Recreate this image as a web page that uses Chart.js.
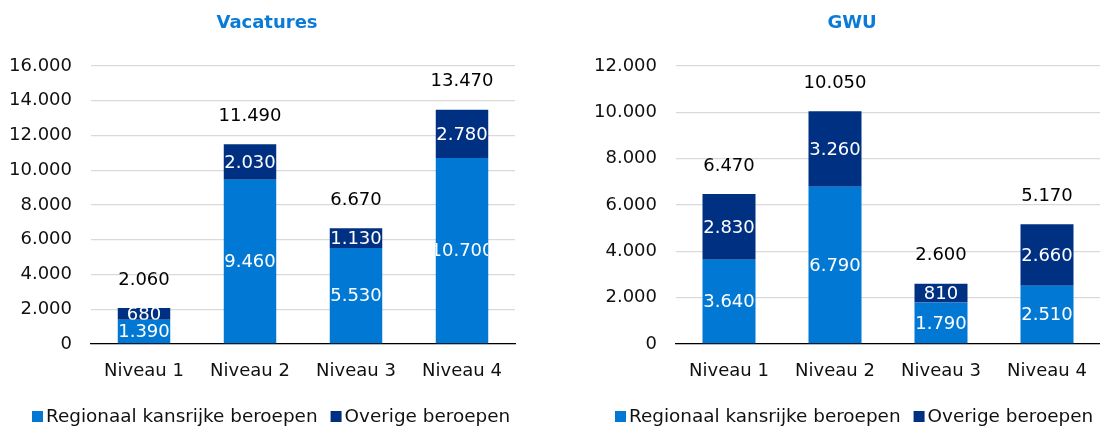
<!DOCTYPE html>
<html>
<head>
<meta charset="utf-8">
<script src="https://cdn.jsdelivr.net/npm/chart.js@4.4.1/dist/chart.umd.min.js"></script>
<style>
  html, body { margin: 0; padding: 0; background: #fff; }
  body { width: 1100px; height: 426px; position: relative; overflow: hidden; }
  .wrap { position: absolute; top: 0; height: 426px; }
</style>
</head>
<body>
<div class="wrap" style="left:0;width:530px"><canvas id="c1"></canvas></div>
<div class="wrap" style="left:586px;width:514px"><canvas id="c2"></canvas></div>
<script>
const categories = ['Niveau 1', 'Niveau 2', 'Niveau 3', 'Niveau 4'];
const seriesNames = ['Regionaal kansrijke beroepen', 'Overige beroepen'];

const vacRegionaal = [1390, 9460, 5530, 10700];
const vacOverige = [680, 2030, 1130, 2780];
const vacTotaal = [2060, 11490, 6670, 13470];

const gwuRegionaal = [3640, 6790, 1790, 2510];
const gwuOverige = [2830, 3260, 810, 2660];
const gwuTotaal = [6470, 10050, 2600, 5170];

const vacTicksMax = 16000;
const gwuTicksMax = 12000;
const tickStep = 2000;

const FONT = "'DejaVu Sans', Verdana, sans-serif";
const FS = 18;
const LEGEND_FS = 18.4;
const LIGHT = '#0078D4';
const DARK = '#003082';
const TEXT = '#111111';

function fmt(n) {
  return String(n).replace(/\B(?=(\d{3})+(?!\d))/g, '.');
}

const barLabels = {
  id: 'barLabels',
  afterDatasetsDraw(chart, args, opts) {
    const ctx = chart.ctx;
    ctx.save();
    ctx.font = FS + 'px ' + FONT;
    ctx.textAlign = 'center';
    ctx.textBaseline = 'middle';
    chart.data.datasets.forEach((ds, i) => {
      const meta = chart.getDatasetMeta(i);
      meta.data.forEach((bar, j) => {
        const p = bar.getProps(['x', 'y', 'base', 'width'], true);
        const top = Math.min(p.y, p.base), bot = Math.max(p.y, p.base);
        ctx.save();
        ctx.beginPath();
        ctx.rect(p.x - p.width / 2, top, p.width, bot - top);
        ctx.clip();
        ctx.fillStyle = '#ffffff';
        ctx.fillText(fmt(ds.data[j]), p.x, (top + bot) / 2 + 1);
        ctx.restore();
      });
    });
    const last = chart.getDatasetMeta(chart.data.datasets.length - 1);
    ctx.fillStyle = '#000000';
    last.data.forEach((bar, j) => {
      const p = bar.getProps(['x', 'y'], true);
      ctx.fillText(fmt(opts.totals[j]), p.x, p.y - 28);
    });
    ctx.restore();
  }
};

// Title and legend drawn at the reference's positions
const headerLegend = {
  id: 'headerLegend',
  afterDraw(chart, args, opts) {
    const ctx = chart.ctx;
    ctx.save();
    ctx.font = 'bold 18px ' + FONT;
    ctx.fillStyle = '#0A7BD6';
    ctx.textAlign = 'center';
    ctx.textBaseline = 'middle';
    ctx.fillText(opts.title, opts.titleX, 23);

    ctx.font = LEGEND_FS + 'px ' + FONT;
    ctx.textAlign = 'left';
    ctx.textBaseline = 'alphabetic';
    let x = opts.legendX;
    chart.data.datasets.forEach(ds => {
      ctx.fillStyle = ds.backgroundColor;
      ctx.fillRect(x, 411, 11, 11);
      ctx.fillStyle = TEXT;
      ctx.fillText(ds.label, x + 14, 421.5);
      x += 14 + ctx.measureText(ds.label).width + 13;
    });
    ctx.restore();
  }
};

function makeChart(id, title, reg, ove, tot, max, catPct, yWidth, padRight, titleX, legendX) {
  return new Chart(document.getElementById(id), {
    type: 'bar',
    data: {
      labels: categories,
      datasets: [
        { label: seriesNames[0], data: reg, backgroundColor: LIGHT, categoryPercentage: catPct, barPercentage: 1 },
        { label: seriesNames[1], data: ove, backgroundColor: DARK, categoryPercentage: catPct, barPercentage: 1 }
      ]
    },
    plugins: [barLabels, headerLegend],
    options: {
      responsive: true,
      maintainAspectRatio: false,
      animation: false,
      layout: { padding: { left: 0, right: padRight, top: 66, bottom: 0 } },
      plugins: {
        title: { display: false },
        legend: { display: false },
        tooltip: { enabled: false },
        barLabels: { totals: tot },
        headerLegend: { title: title, titleX: titleX, legendX: legendX }
      },
      scales: {
        x: {
          stacked: true,
          grid: { display: false },
          border: { display: true, color: '#000000', width: 1.3 },
          ticks: { color: TEXT, font: { family: FONT, size: FS }, padding: 9 },
          afterFit(scale) { scale.height = 82; }
        },
        y: {
          stacked: true,
          min: 0,
          max: max,
          ticks: { stepSize: tickStep, color: TEXT, font: { family: FONT, size: FS }, padding: 19, callback: v => fmt(v) },
          grid: { color: '#d9d9d9', lineWidth: 1.3, drawTicks: false },
          border: { display: false },
          afterFit(scale) { scale.width = yWidth; }
        }
      }
    }
  });
}

makeChart('c1', 'Vacatures', vacRegionaal, vacOverige, vacTotaal, vacTicksMax, 0.495, 91, 15, 267, 32);
makeChart('c2', 'GWU', gwuRegionaal, gwuOverige, gwuTotaal, gwuTicksMax, 0.5, 90, 0, 266, 29);
</script>
</body>
</html>
